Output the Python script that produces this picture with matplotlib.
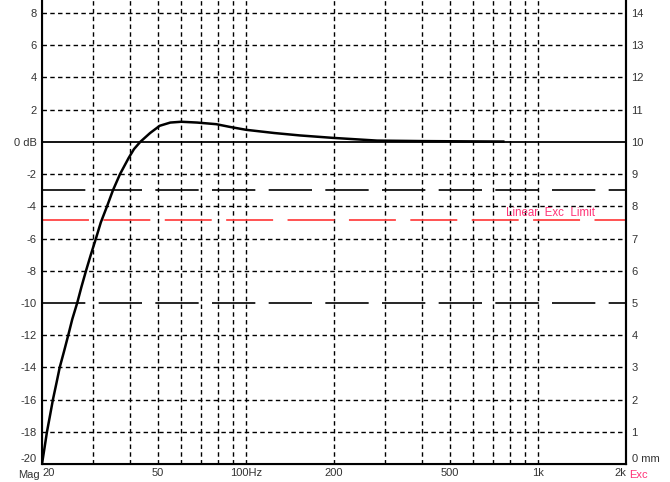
import matplotlib
matplotlib.use("Agg")
import matplotlib.pyplot as plt
import matplotlib.transforms as mtransforms

# frequency response (Hz, dB)
freq = [20, 20.4, 20.8, 21.3, 21.8, 22.4, 23.0, 23.8, 24.6, 25.4, 26.4, 27.3,
        28.3, 29.4, 30.6, 31.8, 33.4, 35.0, 37.0, 39.6, 41.3, 43.4, 46.9, 50.6,
        55, 60, 68, 79, 88, 100, 125, 153, 198, 281, 400, 600, 760]
mag = [-20, -19, -18, -17, -16, -15, -14, -13, -12, -11, -10, -9,
       -8, -7, -6, -5, -4, -3, -2, -1, -0.45, 0, 0.55, 1.0,
       1.2, 1.25, 1.2, 1.1, 0.93, 0.75, 0.55, 0.4, 0.25, 0.08, 0.05, 0.03, 0.02]

# reference levels
minus3_db = -3
minus10_db = -10
exc_limit_db = -4.85

# axes ticks
x_ticks = [20, 50, 100, 200, 500, 1000, 2000]
x_labels = ["20", "50", "100Hz", "200", "500", "1k", "2k"]
x_grid = [30, 40, 50, 60, 70, 80, 90, 100, 200, 300, 400, 500, 600, 700, 800, 900, 1000]
y_ticks = [8, 6, 4, 2, 0, -2, -4, -6, -8, -10, -12, -14, -16, -18, -20]
y_labels = ["8", "6", "4", "2", "0 dB", "-2", "-4", "-6", "-8", "-10", "-12",
            "-14", "-16", "-18", "-20"]
y_grid = [8, 6, 4, 2, -2, -4, -6, -8, -12, -14, -16, -18]
mm_ticks = list(range(0, 15))
mm_labels = ["0 mm"] + [str(v) for v in range(1, 15)]

txt_col = "#333333"
plt.rcParams['font.family'] = ['Liberation Sans', 'DejaVu Sans']

fig = plt.figure(figsize=(6.7, 4.82), dpi=100)
ax = fig.add_axes([42/670, 18/482, 584/670, 464/482])
ax.set_xscale("log")
ax.set_xlim(20, 2000)
ax.set_ylim(-20, 8.81)

grid_style = dict(color="k", lw=1.0, linestyle=(0, (3.2, 2.4)), zorder=1)
for f in x_grid:
    ax.axvline(f, **grid_style)
for y in y_grid:
    ax.axhline(y, **grid_style)

ax.axhline(0, color="k", lw=1.3, zorder=2)
ax.axhline(minus3_db, color="k", lw=1.2, linestyle=(0, (26, 8)), zorder=2)
ax.axhline(minus10_db, color="k", lw=1.2, linestyle=(0, (26, 8)), zorder=2)
ax.axhline(exc_limit_db, color="#ff4444", lw=1.3, linestyle=(0, (26, 8)), zorder=2)
ax.text(1100, exc_limit_db + 0.08, "Linear  Exc  Limit", color="#ff3377",
        fontsize=8.3, ha="center", va="bottom", zorder=3)

ax.plot(freq, mag, color="k", lw=1.8, zorder=4)

for s in ["left", "right", "bottom"]:
    ax.spines[s].set_linewidth(1.5)
ax.spines["top"].set_visible(False)

ax.set_xticks(x_ticks)
ax.set_xticklabels(x_labels)
ax.minorticks_off()
ax.set_yticks(y_ticks)
ax.set_yticklabels(y_labels)
ax.tick_params(axis="both", length=0, labelsize=8, labelcolor=txt_col)
ax.tick_params(axis="x", pad=3)
ax.tick_params(axis="y", pad=4)
xl = ax.get_xticklabels()
xl[0].set_horizontalalignment("left")
xl[-1].set_horizontalalignment("right")
yl = ax.get_yticklabels()
yl[-1].set_verticalalignment("bottom")

ax2 = ax.twinx()
ax2.set_ylim(0, 14.405)
ax2.set_yticks(mm_ticks)
ax2.set_yticklabels(mm_labels)
ax2.tick_params(axis="y", length=0, labelsize=8, labelcolor=txt_col, pad=4)
ax2.get_yticklabels()[0].set_verticalalignment("bottom")
ax2.spines["top"].set_visible(False)
ax2.spines["right"].set_linewidth(1.5)

# corner captions
trans = mtransforms.blended_transform_factory(ax.transAxes, ax.transAxes)
ax.text(-0.004, -0.012, "Mag", transform=trans, ha="right", va="top",
        fontsize=8, color=txt_col)
ax.text(1.006, -0.012, "Exc", transform=trans, ha="left", va="top",
        fontsize=8, color="#ff3377")

fig.savefig("out.png", dpi=100)
